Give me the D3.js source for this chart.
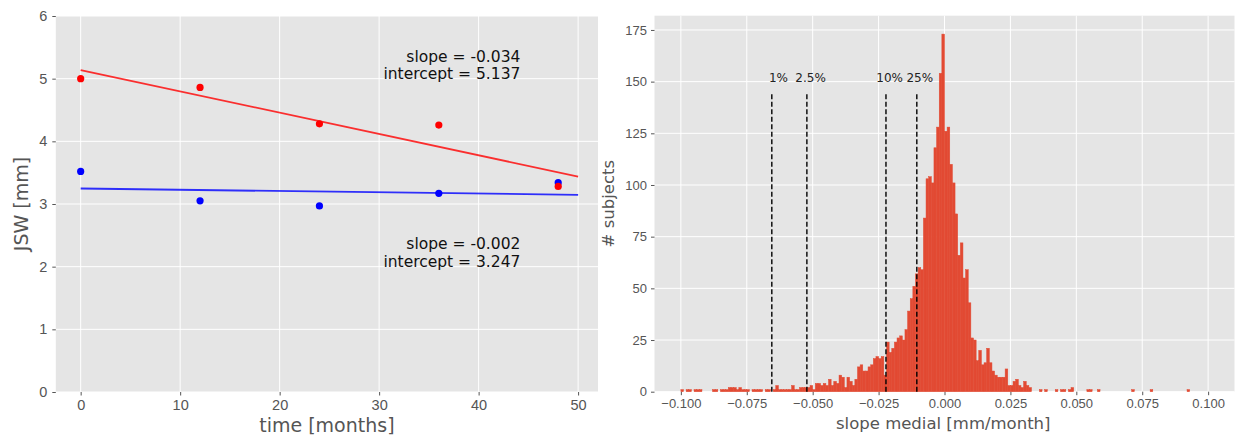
<!DOCTYPE html>
<html>
<head>
<meta charset="utf-8">
<script src="https://cdn.jsdelivr.net/npm/d3@7"></script>
<style>
  body { margin: 0; background: #fff; }
  svg { font-family: "DejaVu Sans", sans-serif; }
</style>
</head>
<body>
<div id="chartContainer"></div>
<script>
// ---- left panel: JSW over time ----
var months = [0, 12, 24, 36, 48];
var jswRed = [5.00, 4.86, 4.28, 4.26, 3.28];
var jswBlue = [3.52, 3.05, 2.97, 3.17, 3.34];
var fitSlopes = [-0.034, -0.002];       // red, blue
var fitIntercepts = [5.137, 3.247];
var fitRange = [0, 50];
var leftXTicks = [0, 10, 20, 30, 40, 50];
var leftYTicks = [0, 1, 2, 3, 4, 5, 6];

// ---- right panel: histogram of slopes ----
var histMin = -0.1, binWidth = 0.001;
// counts per bin, first bin starts at -0.100
var binCounts = [
  1,0,1,1,0,1,1,1,0,0,
  0,0,1,1,0,1,1,1,2,2,
  2,1,2,1,1,1,0,1,1,1,
  1,0,1,1,0,1,3,1,1,1,
  1,1,3,1,1,2,2,2,2,3,
  1,4,4,3,4,3,6,3,5,4,
  8,7,2,7,5,3,6,12,13,10,
  10,12,13,16,17,16,17,8,24,19,
  21,24,26,27,25,30,39,45,51,57,
  60,59,84,103,104,101,118,128,154,173,
  126,128,110,101,86,66,72,55,59,43,
  26,25,15,20,13,14,21,14,10,8,
  7,7,7,11,3,3,5,6,3,2,
  5,3,2,0,0,0,1,0,1,0,
  0,0,1,0,1,1,0,1,2,0,
  0,0,0,0,1,1,0,0,1,0,
  0,0,0,0,0,0,0,0,0,0,
  0,1,0,0,0,0,0,0,1,0,
  0,0,0,0,0,0,0,0,0,0,
  0,0,1,0,0,0,0,0,0,0
];
var quantileNames = ["1%", "2.5%", "10%", "25%"];
var quantileValues = [-0.0655, -0.0522, -0.0222, -0.0105];
var quantileLabelX = [-0.0630, -0.0508, -0.0208, -0.0094];
var quantileTop = 145, quantileLabelY = 150;
var rightXTicks = [-0.1, -0.075, -0.05, -0.025, 0, 0.025, 0.05, 0.075, 0.1];
var rightYTicks = [0, 25, 50, 75, 100, 125, 150, 175];

var W = 1238, H = 435;
var svg = d3.select("#chartContainer").append("svg")
    .attr("width", W).attr("height", H);

var bg = "#E5E5E5", tickColor = "#555555", histColor = "#E24A33";

function styleAxis(g, fontSize) {
  g.select(".domain").remove();
  g.selectAll(".tick line").attr("stroke", tickColor);
  g.selectAll(".tick text").attr("fill", tickColor).style("font-size", fontSize);
}

// ================= left =================
var lx = d3.scaleLinear().domain([-2.5, 52.0]).range([55.8, 598]);
var ly = d3.scaleLinear().domain([0, 6]).range([392, 16]);

svg.append("rect")
    .attr("x", lx.range()[0]).attr("y", ly.range()[1])
    .attr("width", lx.range()[1] - lx.range()[0])
    .attr("height", ly.range()[0] - ly.range()[1])
    .attr("fill", bg);

// grid
svg.append("g").selectAll("line").data(leftXTicks).enter().append("line")
    .attr("x1", d => lx(d)).attr("x2", d => lx(d))
    .attr("y1", ly.range()[0]).attr("y2", ly.range()[1])
    .attr("stroke", "#fff").attr("stroke-width", 1);
svg.append("g").selectAll("line").data(leftYTicks).enter().append("line")
    .attr("y1", d => ly(d)).attr("y2", d => ly(d))
    .attr("x1", lx.range()[0]).attr("x2", lx.range()[1])
    .attr("stroke", "#fff").attr("stroke-width", 1);

var lxAxis = svg.append("g").attr("transform", "translate(0," + ly.range()[0] + ")")
    .call(d3.axisBottom(lx).tickValues(leftXTicks).tickFormat(d3.format("d")).tickSize(3.5).tickPadding(4));
styleAxis(lxAxis, "14.5px");
var lyAxis = svg.append("g").attr("transform", "translate(" + lx.range()[0] + ",0)")
    .call(d3.axisLeft(ly).tickValues(leftYTicks).tickFormat(d3.format("d")).tickSize(3.5).tickPadding(5));
styleAxis(lyAxis, "14.5px");

// fit lines
var lineColors = ["#ff0000", "#0000ff"];
fitSlopes.forEach(function (s, i) {
  svg.append("line")
      .attr("x1", lx(fitRange[0])).attr("y1", ly(fitIntercepts[i] + s * fitRange[0]))
      .attr("x2", lx(fitRange[1])).attr("y2", ly(fitIntercepts[i] + s * fitRange[1]))
      .attr("stroke", lineColors[i]).attr("stroke-opacity", 0.8).attr("stroke-width", 1.8);
});

// points: blue first, red on top
svg.append("g").selectAll("circle").data(months).enter().append("circle")
    .attr("cx", d => lx(d)).attr("cy", (d, i) => ly(jswBlue[i])).attr("r", 3.6)
    .attr("fill", "#0000ff");
svg.append("g").selectAll("circle").data(months).enter().append("circle")
    .attr("cx", d => lx(d)).attr("cy", (d, i) => ly(jswRed[i])).attr("r", 3.6)
    .attr("fill", "#ff0000");

// annotations
var noteX = 44.2, noteY = [5.27, 2.28];
fitSlopes.forEach(function (s, i) {
  var t = svg.append("text")
      .attr("x", lx(noteX)).attr("y", ly(noteY[i]))
      .attr("text-anchor", "end")
      .style("font-size", "15.5px").attr("fill", "#111");
  t.append("tspan").attr("x", lx(noteX)).text("slope = " + s.toFixed(3));
  t.append("tspan").attr("x", lx(noteX)).attr("dy", 17.5).text("intercept = " + fitIntercepts[i].toFixed(3));
});

// axis labels
svg.append("text")
    .attr("x", (lx.range()[0] + lx.range()[1]) / 2).attr("y", 432)
    .attr("text-anchor", "middle").attr("fill", tickColor)
    .style("font-size", "19px").text("time [months]");
svg.append("text")
    .attr("transform", "translate(28," + ((ly.range()[0] + ly.range()[1]) / 2) + ") rotate(-90)")
    .attr("text-anchor", "middle").attr("fill", tickColor)
    .style("font-size", "19px").text("JSW [mm]");

// ================= right =================
var rx = d3.scaleLinear().domain([-0.11, 0.11]).range([654.5, 1234.5]);
var ry = d3.scaleLinear().domain([0, 181.9]).range([391.7, 15.7]);

svg.append("rect")
    .attr("x", rx.range()[0]).attr("y", ry.range()[1])
    .attr("width", rx.range()[1] - rx.range()[0])
    .attr("height", ry.range()[0] - ry.range()[1])
    .attr("fill", bg);

svg.append("g").selectAll("line").data(rightXTicks).enter().append("line")
    .attr("x1", d => rx(d)).attr("x2", d => rx(d))
    .attr("y1", ry.range()[0]).attr("y2", ry.range()[1])
    .attr("stroke", "#fff").attr("stroke-width", 1);
svg.append("g").selectAll("line").data(rightYTicks).enter().append("line")
    .attr("y1", d => ry(d)).attr("y2", d => ry(d))
    .attr("x1", rx.range()[0]).attr("x2", rx.range()[1])
    .attr("stroke", "#fff").attr("stroke-width", 1);

var fmt = d3.format(".3f");
var rxAxis = svg.append("g").attr("transform", "translate(0," + ry.range()[0] + ")")
    .call(d3.axisBottom(rx).tickValues(rightXTicks).tickFormat(d => fmt(d)).tickSize(3.5).tickPadding(4));
styleAxis(rxAxis, "13px");
var ryAxis = svg.append("g").attr("transform", "translate(" + rx.range()[0] + ",0)")
    .call(d3.axisLeft(ry).tickValues(rightYTicks).tickSize(3.5).tickPadding(4));
styleAxis(ryAxis, "13px");

// histogram bars, one per bin (empty bins skipped)
var bins = binCounts.map(function (c, i) {
  return { x0: histMin + i * binWidth, x1: histMin + (i + 1) * binWidth, count: c };
}).filter(b => b.count > 0);
svg.append("g").selectAll("rect").data(bins).enter().append("rect")
    .attr("x", d => rx(d.x0))
    .attr("width", d => rx(d.x1) - rx(d.x0))
    .attr("y", d => ry(d.count))
    .attr("height", d => ry(0) - ry(d.count))
    .attr("fill", histColor)
    .attr("stroke", histColor).attr("stroke-width", 0.5);

// quantile lines
svg.append("g").selectAll("line").data(quantileValues).enter().append("line")
    .attr("x1", d => rx(d)).attr("x2", d => rx(d))
    .attr("y1", ry(0)).attr("y2", ry(quantileTop))
    .attr("stroke", "#000").attr("stroke-width", 1.4)
    .attr("stroke-dasharray", "5,2.5");
svg.append("g").selectAll("text").data(quantileNames).enter().append("text")
    .attr("x", (d, i) => rx(quantileLabelX[i])).attr("y", ry(quantileLabelY))
    .attr("text-anchor", "middle").attr("fill", "#222")
    .style("font-size", "12px").text(d => d);

svg.append("text")
    .attr("x", (rx.range()[0] + 1232) / 2).attr("y", 429)
    .attr("text-anchor", "middle").attr("fill", tickColor)
    .style("font-size", "16.5px").text("slope medial [mm/month]");
svg.append("text")
    .attr("transform", "translate(614," + ((ry.range()[0] + ry.range()[1]) / 2) + ") rotate(-90)")
    .attr("text-anchor", "middle").attr("fill", tickColor)
    .style("font-size", "16.5px").text("# subjects");
</script>
</body>
</html>
